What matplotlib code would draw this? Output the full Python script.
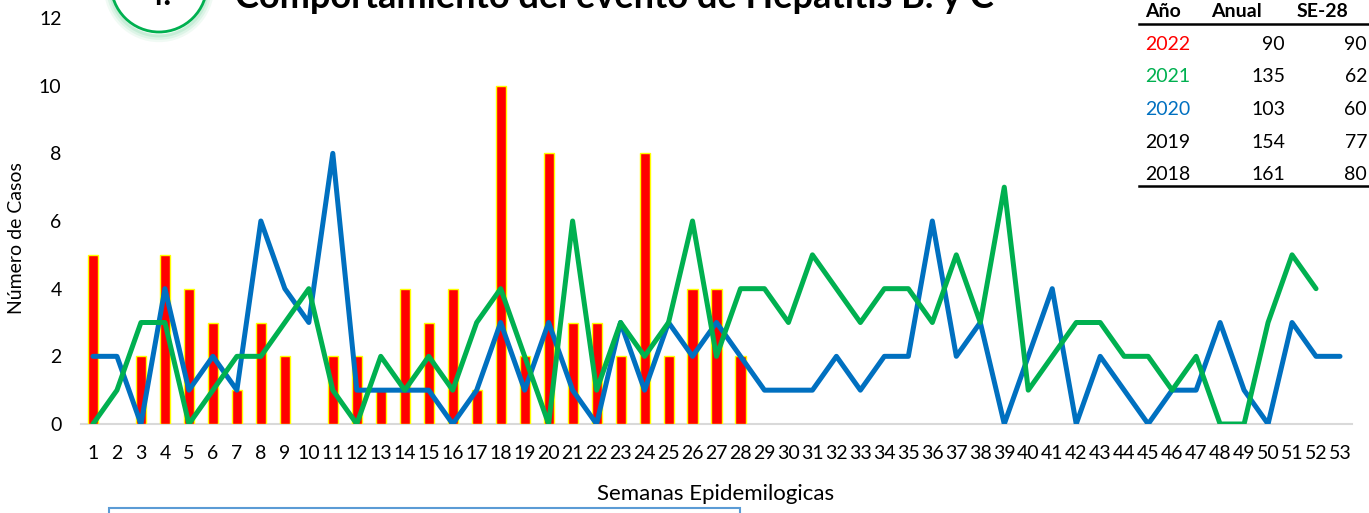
import numpy as np
import matplotlib
matplotlib.use('Agg')
import matplotlib.pyplot as plt
from matplotlib.patches import Ellipse, Rectangle

# Datos: casos por semana epidemiologica
semanas = np.arange(1, 54)
casos_2022 = [5, 0, 2, 5, 4, 3, 1, 3, 2, 0, 2, 2, 1, 4, 3, 4, 1, 10, 2, 8,
              3, 3, 2, 8, 2, 4, 4, 2]
casos_2021 = [0, 1, 3, 3, 0, 1, 2, 2, 3, 4, 1, 0, 2, 1, 2, 1, 3, 4, 2, 0,
              6, 1, 3, 2, 3, 6, 2, 4, 4, 3, 5, 4, 3, 4, 4, 3, 5, 3, 7, 1,
              2, 3, 3, 2, 2, 1, 2, 0, 0, 3, 5, 4]
casos_2020 = [2, 2, 0, 4, 1, 2, 1, 6, 4, 3, 8, 1, 1, 1, 1, 0, 1, 3, 1, 3,
              1, 0, 3, 1, 3, 2, 3, 2, 1, 1, 1, 2, 1, 2, 2, 6, 2, 3, 0, 2,
              4, 0, 2, 1, 0, 1, 1, 3, 1, 0, 3, 2, 2]

# Tabla resumen
tabla_anios = ['2022', '2021', '2020', '2019', '2018']
tabla_anual = [90, 135, 103, 154, 161]
tabla_se28 = [90, 62, 60, 77, 80]
tabla_colores = ['#FF0000', '#00B050', '#0070C0', 'black', 'black']

ROJO = '#FF0000'
VERDE = '#00B050'
AZUL = '#0070C0'
FONT = 'Lato'

W, H = 1369, 513
plt.rcParams['font.family'] = [FONT, 'DejaVu Sans']

fig = plt.figure(figsize=(W / 100, H / 100), dpi=100)

def px(x, y):
    # pixeles (desde arriba-izquierda) -> fraccion de figura
    return x / W, 1 - y / H

l, t = px(81, 18)
r, b = px(1352, 424)
ax = fig.add_axes((l, b, r - l, t - b))

# Barras 2022 (solo las semanas con casos)
x22 = semanas[:len(casos_2022)]
v22 = np.array(casos_2022)
m = v22 > 0
ax.bar(x22[m], v22[m], width=0.42, color=ROJO, edgecolor='#FFFF00', linewidth=1.0, zorder=2)

# Lineas 2020 y 2021
ax.plot(semanas[:len(casos_2020)], casos_2020, color=AZUL, lw=3.6, zorder=3,
        solid_joinstyle='round', solid_capstyle='round')
ax.plot(semanas[:len(casos_2021)], casos_2021, color=VERDE, lw=3.6, zorder=4,
        solid_joinstyle='round', solid_capstyle='round')

ax.set_xlim(0.5, 53.5)
ax.set_ylim(0, 12)
ax.set_yticks(range(0, 13, 2))
ax.set_xticks(semanas)
ax.set_xticklabels([str(s) for s in semanas])
ax.tick_params(axis='x', length=0, pad=15, labelsize=14)
ax.tick_params(axis='y', length=0, pad=14, labelsize=14)
for s in ['top', 'right', 'left']:
    ax.spines[s].set_visible(False)
ax.spines['bottom'].set_color('#D9D9D9')
ax.spines['bottom'].set_linewidth(1.5)
ax.spines['bottom'].set_zorder(1)

# Etiquetas de ejes
fig.text(*px(716, 494), 'Semanas Epidemilogicas', ha='center', va='center', fontsize=16)
fig.text(*px(17, 238), 'Número de Casos', ha='center', va='center', rotation=90, fontsize=14)

# Titulo (cortado arriba, como en el original)
fig.text(*px(235, 8), 'Comportamiento del evento de Hepatitis B. y C', ha='left',
         va='baseline', fontsize=26, fontweight='bold')
cx, cy = px(159, -16)
for k, a in [(6, 0.06), (4, 0.08), (2, 0.1)]:
    fig.add_artist(Ellipse((cx, cy - 3 / H), (96 + k) / W, (96 + k) / H,
                           transform=fig.transFigure, facecolor='none',
                           edgecolor=VERDE, alpha=a, lw=k, clip_on=False))
fig.add_artist(Ellipse((cx, cy), 96 / W, 96 / H, transform=fig.transFigure,
                       facecolor='white', edgecolor=VERDE, lw=2, clip_on=False))
fig.text(*px(158, 5), '4.', ha='center', va='baseline', fontsize=24, fontweight='bold')

# Tabla resumen arriba a la derecha
fig.text(*px(1145, 17), 'Año', ha='left', va='baseline', fontsize=14, fontweight='bold')
fig.text(*px(1236, 17), 'Anual', ha='center', va='baseline', fontsize=14, fontweight='bold')
fig.text(*px(1322, 17), 'SE-28', ha='center', va='baseline', fontsize=14, fontweight='bold')
for yy in [24, 186]:
    fig.add_artist(plt.Line2D([1139 / W, 1], [1 - yy / H] * 2, color='black', lw=1.8,
                              transform=fig.transFigure))
for i, (an, va_, se, c) in enumerate(zip(tabla_anios, tabla_anual, tabla_se28, tabla_colores)):
    yb = 50 + i * 32.5
    fig.text(*px(1145, yb), an, ha='left', va='baseline', fontsize=14, color=c)
    fig.text(*px(1285, yb), str(va_), ha='right', va='baseline', fontsize=14)
    fig.text(*px(1367, yb), str(se), ha='right', va='baseline', fontsize=14)

# Recuadro inferior (cortado)
x0, y0 = px(109, 508)
x1, _ = px(740, 508)
fig.add_artist(Rectangle((x0, y0 - 0.2), x1 - x0, 0.2, transform=fig.transFigure,
                         facecolor='white', edgecolor='#5B9BD5', lw=1.5, clip_on=False))

fig.savefig('out.png', dpi=100)
